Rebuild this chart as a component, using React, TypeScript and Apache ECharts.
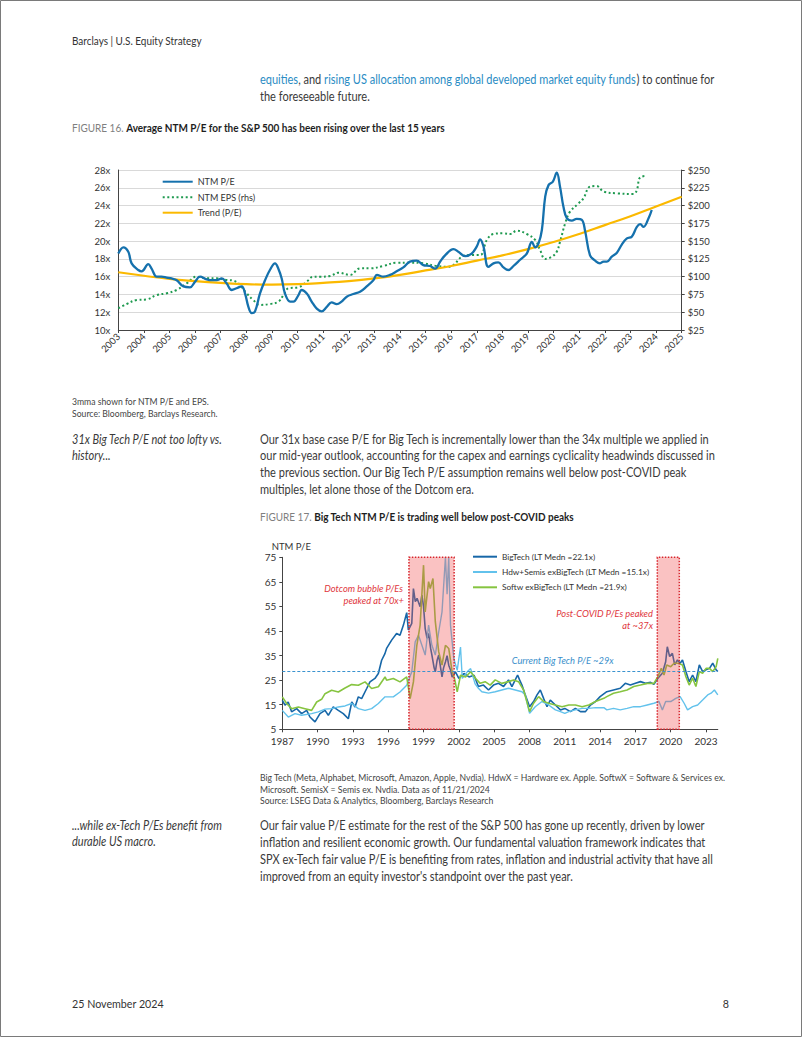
import React, { useEffect, useRef } from "react";
import * as echarts from "echarts";

// ---------------- Figure 16 data ----------------
const fig16YearMin = 2003;
const fig16YearMax = 2025;
const ntmPE: [number, number][] = [
  [2003.0, 18.6], [2003.2, 19.3], [2003.39, 18.8], [2003.52, 17.5], [2003.78, 16.75], [2003.91, 16.6],
  [2004.17, 17.4], [2004.3, 16.9], [2004.5, 16.0], [2004.69, 16.0], [2004.89, 15.9], [2005.08, 15.8],
  [2005.28, 15.6], [2005.54, 14.9], [2005.8, 14.8], [2005.99, 15.4], [2006.19, 16.0], [2006.45, 15.7],
  [2006.65, 15.6], [2006.84, 15.6], [2007.04, 15.8], [2007.23, 15.25], [2007.43, 14.5], [2007.62, 14.7],
  [2007.82, 14.9], [2007.95, 14.1], [2008.08, 12.6], [2008.21, 11.9], [2008.34, 12.1], [2008.53, 14.1],
  [2008.73, 15.6], [2008.92, 16.75], [2009.12, 17.5], [2009.25, 16.9], [2009.38, 15.8], [2009.51, 14.1],
  [2009.71, 13.2], [2009.84, 13.2], [2010.03, 13.9], [2010.16, 14.5], [2010.36, 14.1], [2010.55, 13.2],
  [2010.75, 12.4], [2010.94, 12.1], [2011.14, 12.6], [2011.33, 13.1], [2011.53, 12.9], [2011.72, 13.2],
  [2011.92, 13.75], [2012.18, 14.05], [2012.44, 14.3], [2012.7, 14.9], [2012.96, 15.6], [2013.1, 16.2],
  [2013.35, 16.0], [2013.61, 16.2], [2013.87, 16.6], [2014.13, 17.05], [2014.39, 17.7], [2014.65, 17.8],
  [2014.91, 17.3], [2015.17, 17.2], [2015.37, 16.9], [2015.57, 17.7], [2015.76, 18.4], [2016.09, 19.1],
  [2016.28, 18.8], [2016.54, 18.3], [2016.8, 18.6], [2017.0, 19.4], [2017.13, 20.2], [2017.26, 19.4],
  [2017.45, 17.1], [2017.65, 17.5], [2017.84, 17.6], [2018.04, 17.05], [2018.23, 16.75], [2018.43, 17.2],
  [2018.69, 17.9], [2018.95, 18.6], [2019.15, 19.9], [2019.28, 19.3], [2019.41, 19.75], [2019.54, 21.25],
  [2019.67, 25.0], [2019.8, 26.3], [2019.97, 26.7], [2020.12, 27.7], [2020.25, 26.1], [2020.38, 23.9],
  [2020.51, 22.6], [2020.71, 22.3], [2020.9, 22.5], [2021.1, 22.4], [2021.23, 21.1], [2021.42, 18.4],
  [2021.62, 17.8], [2021.81, 17.5], [2021.95, 17.7], [2022.08, 17.7], [2022.27, 18.25], [2022.47, 18.7],
  [2022.66, 19.6], [2022.86, 20.3], [2023.05, 20.5], [2023.25, 21.6], [2023.38, 21.9], [2023.51, 21.6],
  [2023.71, 22.6], [2023.83, 23.5],
];
const ntmEPS: [number, number][] = [
  [2003.0, 55.5], [2003.33, 61.6], [2003.72, 67.2], [2004.11, 68.1], [2004.5, 74.2], [2004.89, 76.6],
  [2005.28, 81.3], [2005.67, 90.6], [2006.06, 100], [2006.45, 97.7], [2006.84, 97.7], [2007.23, 95.3],
  [2007.49, 94.4], [2007.75, 88.3], [2008.01, 76.6], [2008.27, 67.2], [2008.53, 60.2], [2008.92, 61.6],
  [2009.25, 64.8], [2009.45, 74.2], [2009.64, 83.6], [2010.03, 85], [2010.36, 93], [2010.62, 100],
  [2010.88, 100], [2011.27, 100.9], [2011.59, 105.6], [2012.05, 102.4], [2012.44, 111.7], [2012.83, 111.7],
  [2013.35, 115], [2013.87, 119.7], [2014.39, 119.7], [2014.91, 118.8], [2015.43, 115], [2015.83, 114],
  [2016.09, 116.4], [2016.41, 128], [2016.74, 130.5], [2017.13, 130.5], [2017.39, 151.6], [2017.65, 160],
  [2018.04, 161], [2018.3, 160], [2018.56, 164.7], [2018.95, 160], [2019.28, 151.6], [2019.47, 137.5],
  [2019.67, 124.9], [2019.93, 128], [2020.12, 135], [2020.25, 149.2], [2020.45, 175], [2020.64, 191.4],
  [2020.97, 203], [2021.16, 210], [2021.42, 226.6], [2021.68, 227.5], [2021.95, 219.6], [2022.47, 217.2],
  [2023.12, 216.3], [2023.25, 221.9], [2023.38, 239.7], [2023.64, 241.6],
];
const trendPE: [number, number][] = [
  [2003, 16.5], [2004, 16.1], [2005, 15.75], [2006, 15.5], [2007, 15.3], [2008, 15.15], [2009, 15.1],
  [2010, 15.15], [2011, 15.3], [2012, 15.5], [2013, 15.8], [2014, 16.2], [2015, 16.7], [2016, 17.2],
  [2017, 17.8], [2018, 18.4], [2019, 19.1], [2020, 19.9], [2021, 20.8], [2022, 21.8], [2023, 22.8],
  [2024, 23.9], [2025, 25.0],
];
const fig16Names = ["NTM P/E", "NTM EPS (rhs)", "Trend (P/E)"];

// ---------------- Figure 17 data ----------------
const fig17XTicks = [1987, 1990, 1993, 1996, 1999, 2002, 2005, 2008, 2011, 2014, 2017, 2020, 2023];
const fig17YTicks = [5, 15, 25, 35, 45, 55, 65, 75];
const fig17Names = [
  "BigTech (LT Medn =22.1x)",
  "Hdw+Semis exBigTech (LT Medn =15.1x)",
  "Softw exBigTech (LT Medn =21.9x)",
];
const bigTech: [number, number][] = [
  [1987.0, 16.8], [1987.23, 14.8], [1987.5, 16.1], [1987.79, 12.1], [1988.22, 13.4], [1988.64, 11.4],
  [1989.07, 12.7], [1989.35, 10.0], [1989.78, 8.0], [1990.2, 11.4], [1990.63, 12.7], [1990.91, 10.7],
  [1991.33, 14.1], [1991.76, 12.7], [1992.18, 11.4], [1992.61, 9.3], [1992.9, 16.1], [1993.18, 14.1],
  [1993.46, 18.2], [1993.74, 17.5], [1994.17, 21.6], [1994.45, 24.3], [1994.87, 25.7], [1995.16, 27.7],
  [1995.44, 33.1], [1995.72, 35.8], [1995.86, 37.9], [1996.29, 41.3], [1996.71, 44], [1997.0, 43.3],
  [1997.29, 47.4], [1997.57, 52.5], [1997.71, 45.4], [1998.0, 48.1], [1998.14, 62.3], [1998.3, 57],
  [1998.45, 58.3], [1998.71, 54.9], [1998.86, 59.6], [1999.0, 55], [1999.14, 46], [1999.3, 42],
  [1999.43, 44], [1999.6, 38], [1999.71, 35.2], [1999.9, 30], [2000.0, 28.4], [2000.15, 33],
  [2000.29, 35.2], [2000.45, 30], [2000.57, 26.3], [2000.7, 30], [2000.86, 32.4], [2001.0, 35],
  [2001.14, 31.1], [2001.3, 29], [2001.43, 26.3], [2001.71, 28.4], [2002.0, 25.7], [2002.43, 27.7],
  [2002.86, 26.3], [2003.29, 27.0], [2003.66, 22.4], [2004.09, 23.0], [2004.52, 21.0], [2004.94, 23.0],
  [2005.37, 23.7], [2005.8, 22.4], [2006.22, 25.1], [2006.51, 22.4], [2006.79, 25.1], [2006.99, 27.1],
  [2007.16, 25.1], [2007.36, 23.0], [2007.64, 19.0], [2008.01, 14.2], [2008.35, 16.3], [2008.64, 19.0],
  [2008.92, 21.0], [2009.2, 17.6], [2009.49, 14.2], [2009.77, 16.9], [2010.2, 14.9], [2010.63, 12.9],
  [2011.0, 13.5], [2011.48, 12.2], [2011.9, 13.5], [2012.33, 12.2], [2012.76, 12.2], [2013.18, 14.9],
  [2013.61, 16.3], [2014.0, 18.3], [2014.57, 20.3], [2015.14, 21.0], [2015.71, 21.7], [2016.14, 23.7],
  [2016.57, 23.0], [2017.0, 23.7], [2017.43, 24.4], [2017.86, 23.7], [2018.29, 24.1], [2018.57, 23.3],
  [2018.91, 25.8], [2019.29, 27.8], [2019.57, 32.5], [2019.71, 38.6], [2019.91, 34.6], [2020.14, 35.9],
  [2020.34, 31.2], [2020.57, 33.2], [2020.8, 31.9], [2021.0, 33.2], [2021.29, 28.5], [2021.57, 24.4],
  [2021.86, 27.1], [2022.14, 24.4], [2022.43, 31.2], [2022.71, 28.5], [2023.0, 29.2], [2023.29, 29.8],
  [2023.57, 31.9], [2023.86, 29.2], [2024.0, 28.5],
];
const hdwSemis: [number, number][] = [
  [1987.0, 12.7], [1987.51, 10.0], [1988.08, 11.4], [1988.64, 10.7], [1989.49, 11.4], [1990.06, 12.1],
  [1990.63, 13.2], [1991.19, 13.4], [1991.76, 14.1], [1992.33, 14.5], [1992.89, 15.5], [1993.46, 13.4],
  [1994.03, 12.7], [1994.59, 13.4], [1995.16, 15.5], [1995.73, 18.2], [1996.43, 18.2], [1997.0, 20.2],
  [1997.57, 22.9], [1998.0, 28.4], [1998.29, 40.6], [1998.57, 43.3], [1998.86, 39.2], [1999.14, 35.2],
  [1999.43, 47.4], [1999.71, 39.2], [2000.0, 35.2], [2000.29, 44.7], [2000.57, 52.8], [2000.86, 75],
  [2001.0, 60], [2001.14, 75], [2001.29, 47.4], [2001.57, 33.8], [2001.86, 29.0], [2002.14, 38.5],
  [2002.29, 25.7], [2002.71, 28.4], [2003.0, 29.7], [2003.38, 23.5], [2003.66, 21.7], [2003.95, 20.3],
  [2004.52, 19.7], [2005.09, 20.3], [2005.65, 21.0], [2006.22, 21.7], [2006.79, 21.0], [2007.36, 20.3],
  [2007.64, 19.0], [2008.01, 11.5], [2008.49, 14.2], [2009.06, 16.3], [2009.63, 14.9], [2010.2, 12.9],
  [2010.63, 12.2], [2011.0, 11.5], [2011.34, 12.2], [2011.9, 12.9], [2012.47, 13.5], [2013.04, 13.5],
  [2013.61, 13.8], [2014.32, 13.8], [2014.57, 12.9], [2015.14, 13.5], [2015.71, 12.9], [2016.29, 13.5],
  [2016.86, 14.2], [2017.43, 14.2], [2018.0, 14.9], [2018.57, 15.6], [2019.0, 16.3], [2019.29, 12.9],
  [2019.57, 16.3], [2020.0, 16.3], [2020.43, 17.6], [2020.8, 18.3], [2021.14, 15.6], [2021.43, 12.9],
  [2021.86, 14.2], [2022.29, 14.9], [2022.71, 16.9], [2023.14, 19.0], [2023.43, 19.7], [2023.71, 21.0],
  [2024.0, 19.0],
];
const softw: [number, number][] = [
  [1987.0, 18.2], [1987.37, 15.5], [1987.79, 13.4], [1988.36, 14.1], [1988.93, 13.4], [1989.49, 12.7],
  [1989.92, 16.1], [1990.34, 17.2], [1990.63, 19.5], [1991.19, 20.9], [1991.76, 20.2], [1992.33, 21.8],
  [1992.89, 23.2], [1993.46, 22.9], [1994.03, 24.3], [1994.59, 21.6], [1995.16, 22.3], [1995.73, 26.3],
  [1995.86, 25.0], [1996.43, 25.7], [1997.0, 24.3], [1997.57, 26.3], [1997.86, 17.5], [1998.14, 24.3],
  [1998.43, 39.2], [1998.71, 47.4], [1999.0, 71.8], [1999.14, 52.8], [1999.43, 65.1], [1999.57, 62.3],
  [1999.8, 66.4], [2000.0, 48.8], [2000.29, 36.5], [2000.57, 31.1], [2000.86, 39.2], [2001.14, 37.9],
  [2001.43, 28.4], [2001.63, 25.7], [2001.86, 20.2], [2002.14, 27.0], [2002.57, 26.3], [2003.0, 28.4],
  [2003.43, 25.7], [2003.81, 23.7], [2004.23, 24.4], [2004.66, 23.0], [2005.09, 25.1], [2005.65, 23.7],
  [2006.22, 24.4], [2006.65, 25.1], [2007.07, 24.4], [2007.5, 21.0], [2008.01, 12.2], [2008.35, 15.6],
  [2008.78, 18.3], [2009.2, 16.3], [2009.63, 15.6], [2010.2, 14.9], [2010.77, 14.2], [2011.34, 14.9],
  [2011.9, 14.9], [2012.47, 14.2], [2013.04, 14.9], [2013.61, 16.3], [2014.32, 17.6], [2014.57, 18.3],
  [2015.14, 19.7], [2015.71, 20.3], [2016.29, 21.0], [2016.86, 22.4], [2017.43, 23.0], [2018.0, 23.7],
  [2018.57, 23.7], [2018.91, 26.4], [2019.2, 29.8], [2019.43, 27.1], [2019.66, 31.2], [2020.0, 30.5],
  [2020.29, 31.9], [2020.63, 31.9], [2021.0, 31.2], [2021.29, 26.4], [2021.57, 23.0], [2021.86, 25.8],
  [2022.14, 22.4], [2022.43, 28.5], [2022.71, 27.8], [2023.0, 29.8], [2023.29, 29.8], [2023.57, 28.5],
  [2023.86, 30.5], [2024.0, 33.9],
];
const dotcomPeriod = [1997.76, 2001.6];
const covidPeriod = [2018.86, 2020.73];
const currentBigTechPE = 28.7;

// ---------------- page text ----------------
const headerText = "Barclays | U.S. Equity Strategy";
const para1 = [
  "{l|equities}, and {l|rising US allocation among global developed market equity funds}) to continue for",
  "the foreseeable future.",
];
const fig16Label = "FIGURE 16.";
const fig16Title = "Average NTM P/E for the S&P 500 has been rising over the last 15 years";
const fig16Notes = ["3mma shown for NTM P/E and EPS.", "Source: Bloomberg, Barclays Research."];
const side1 = ["31x Big Tech P/E not too lofty vs.", "history..."];
const para2 = [
  "Our 31x base case P/E for Big Tech is incrementally lower than the 34x multiple we applied in",
  "our mid-year outlook, accounting for the capex and earnings cyclicality headwinds discussed in",
  "the previous section. Our Big Tech P/E assumption remains well below post-COVID peak",
  "multiples, let alone those of the Dotcom era.",
];
const fig17Label = "FIGURE 17.";
const fig17Title = "Big Tech NTM P/E is trading well below post-COVID peaks";
const fig17Notes = [
  "Big Tech (Meta, Alphabet, Microsoft, Amazon, Apple, Nvdia). HdwX = Hardware ex. Apple. SoftwX = Software & Services ex.",
  "Microsoft. SemisX = Semis ex. Nvdia. Data as of 11/21/2024",
  "Source: LSEG Data & Analytics, Bloomberg, Barclays Research",
];
const side2 = ["...while ex-Tech P/Es benefit from", "durable US macro."];
const para3 = [
  "Our fair value P/E estimate for the rest of the S&P 500 has gone up recently, driven by lower",
  "inflation and resilient economic growth. Our fundamental valuation framework indicates that",
  "SPX ex-Tech fair value P/E is benefiting from rates, inflation and industrial activity that have all",
  "improved from an equity investor's standpoint over the past year.",
];
const footerDate = "25 November 2024";
const pageNumber = "8";

const FONT = "Lato";

function measure(text: string, size: number, weight = "normal", style = "normal") {
  const c = document.createElement("canvas").getContext("2d") as CanvasRenderingContext2D;
  c.font = `${style} ${weight} ${size}px ${FONT}`;
  return c.measureText(text).width;
}

function txt(text: string, x: number, y: number, o: any = {}) {
  const size = o.size ?? 12.5;
  return {
    type: "text",
    x,
    y,
    scaleX: o.scale ?? 1,
    silent: true,
    z: 100,
    style: {
      text,
      fontSize: size,
      fontFamily: FONT,
      fontWeight: o.weight ?? "normal",
      fontStyle: o.italic ? "italic" : "normal",
      fill: o.fill ?? "#3a3a3a",
      align: o.align ?? "left",
      verticalAlign: "middle",
      rich: o.rich,
    },
  };
}

function buildGraphics() {
  const BODY = 12.5;
  const sHeader = 130 / measure(headerText, 11);
  const sBody = 451 / measure(para2[0], BODY);
  const sSide = 151 / measure(side1[0], BODY, "normal", "italic");
  const sNote = 233.6 / measure(fig17Notes[2], 9.5);
  const sTitle = 374 / (measure(fig16Label + " ", 10.5) + measure(fig16Title, 10.5, "bold"));
  const sFoot = 92 / measure(footerDate, 11);
  const richTitle = {
    g: { fontSize: 10.5, fontFamily: FONT, fontWeight: "normal", fill: "#7f7f7f" },
    b: { fontSize: 10.5, fontFamily: FONT, fontWeight: "bold", fill: "#1e1e1e" },
  };
  const richLink = { l: { fontSize: BODY, fontFamily: FONT, fontWeight: "normal", fill: "#2a8cc4" } };
  const g: any[] = [];
  g.push({
    type: "rect",
    silent: true,
    shape: { x: 0.5, y: 0.5, width: 801, height: 1036 },
    style: { fill: "none", stroke: "#7a7a7a", lineWidth: 1 },
  });
  g.push(txt(headerText, 72, 41, { size: 11, scale: sHeader, fill: "#333" }));
  para1.forEach((t, i) => g.push(txt(t, 260, 79.3 + i * 16.7, { size: BODY, scale: sBody, rich: richLink })));
  g.push(txt(`{g|${fig16Label}} {b|${fig16Title}}`, 72, 128.3, { size: 10.5, scale: sTitle, rich: richTitle }));
  fig16Notes.forEach((t, i) => g.push(txt(t, 72, 401.7 + i * 11.6, { size: 9.5, scale: sNote, fill: "#444" })));
  side1.forEach((t, i) => g.push(txt(t, 72, 439 + i * 16.7, { size: BODY, scale: sSide, italic: true })));
  para2.forEach((t, i) => g.push(txt(t, 260, 439 + i * 16.7, { size: BODY, scale: sBody })));
  g.push(txt(`{g|${fig17Label}} {b|${fig17Title}}`, 260, 516.7, { size: 10.5, scale: sTitle, rich: richTitle }));
  fig17Notes.forEach((t, i) => g.push(txt(t, 260, 777.3 + i * 11.7, { size: 9.5, scale: sNote, fill: "#444" })));
  side2.forEach((t, i) => g.push(txt(t, 72, 825 + i * 16.7, { size: BODY, scale: sSide, italic: true })));
  para3.forEach((t, i) => g.push(txt(t, 260, 825 + i * 16.95, { size: BODY, scale: sBody })));
  g.push(txt(footerDate, 72, 1003.3, { size: 11, scale: sFoot, fill: "#333" }));
  g.push(txt(pageNumber, 729, 1003.3, { size: 11, scale: sFoot, fill: "#333", align: "right" }));

  // chart 2 annotations
  const red = "#e0353c";
  g.push(txt("NTM P/E", 271.7, 546, { size: 9.5, fill: "#333" }));
  g.push(txt("Dotcom bubble P/Es", 403, 588.3, { size: 9.3, italic: true, fill: red, align: "right" }));
  g.push(txt("peaked at 70x+", 404, 600.7, { size: 9.3, italic: true, fill: red, align: "right" }));
  g.push(txt("Post-COVID P/Es peaked", 653, 613.7, { size: 9.3, italic: true, fill: red, align: "right" }));
  g.push(txt("at ~37x", 653, 625.7, { size: 9.3, italic: true, fill: red, align: "right" }));
  g.push(txt("Current Big Tech P/E ~29x", 511.7, 660, { size: 9.3, italic: true, fill: "#3a8fcb" }));
  return g;
}

function buildOption() {
  const axisColor = "#444";
  const labelStyle = { fontFamily: FONT, color: "#333" };
  return {
    animation: false,
    backgroundColor: "#fff",
    textStyle: { fontFamily: FONT },
    graphic: buildGraphics(),
    grid: [
      { left: 118.3, top: 170, width: 563.4, height: 160 },
      { left: 282.3, top: 557.3, width: 435.5, height: 172 },
    ],
    legend: [
      {
        data: fig16Names,
        orient: "vertical",
        left: 161.7,
        top: 176.7,
        padding: 0,
        itemWidth: 30,
        itemHeight: 10,
        itemGap: 5.5,
        itemStyle: { opacity: 0 },
        textStyle: { fontFamily: FONT, fontSize: 9, color: "#333", lineHeight: 10 },
      },
      {
        data: fig17Names,
        orient: "vertical",
        left: 472,
        top: 551.7,
        padding: 0,
        itemWidth: 24,
        itemHeight: 10,
        itemGap: 5.3,
        itemStyle: { opacity: 0 },
        textStyle: { fontFamily: FONT, fontSize: 8.3, color: "#333", lineHeight: 10 },
      },
    ],
    xAxis: [
      {
        type: "value",
        gridIndex: 0,
        min: fig16YearMin,
        max: fig16YearMax,
        interval: 1,
        axisLine: { show: true, lineStyle: { color: axisColor, width: 1 } },
        axisTick: { show: true, length: 3, lineStyle: { color: axisColor } },
        splitLine: { show: false },
        axisLabel: { ...labelStyle, fontSize: 9.5, rotate: 45, margin: 5, formatter: (v: number) => String(v) },
      },
      {
        type: "value",
        gridIndex: 1,
        min: 1987,
        max: 2024,
        axisLine: { show: true, lineStyle: { color: axisColor, width: 1 } },
        axisTick: { show: true, length: 3, customValues: fig17XTicks, lineStyle: { color: axisColor } },
        splitLine: { show: false },
        axisLabel: { ...labelStyle, fontSize: 10, margin: 7, customValues: fig17XTicks, formatter: (v: number) => String(v) },
      },
    ],
    yAxis: [
      {
        type: "value",
        gridIndex: 0,
        min: 10,
        max: 28,
        interval: 2,
        axisLine: { show: true, lineStyle: { color: axisColor, width: 1 } },
        axisTick: { show: false },
        splitLine: { show: true, lineStyle: { color: "#d9d9d9", width: 1 } },
        axisLabel: { ...labelStyle, fontSize: 9.5, margin: 8, formatter: (v: number) => `${v}x` },
      },
      {
        type: "value",
        gridIndex: 0,
        position: "right",
        min: 25,
        max: 250,
        interval: 25,
        axisLine: { show: true, lineStyle: { color: axisColor, width: 1 } },
        axisTick: { show: true, length: 3, lineStyle: { color: axisColor } },
        splitLine: { show: false },
        axisLabel: { ...labelStyle, fontSize: 9.5, margin: 6, formatter: (v: number) => `$${v}` },
      },
      {
        type: "value",
        gridIndex: 1,
        min: 5,
        max: 75,
        axisLine: { show: true, lineStyle: { color: axisColor, width: 1 } },
        axisTick: { show: true, length: 3, customValues: fig17YTicks, lineStyle: { color: axisColor } },
        splitLine: { show: false },
        axisLabel: { ...labelStyle, fontSize: 10, margin: 6, customValues: fig17YTicks },
      },
    ],
    series: [
      {
        name: fig16Names[0],
        type: "line",
        xAxisIndex: 0,
        yAxisIndex: 0,
        data: ntmPE,
        smooth: 0.4,
        symbol: "none",
        z: 4,
        lineStyle: { color: "#1571ad", width: 2.3 },
        itemStyle: { color: "#1571ad" },
      },
      {
        name: fig16Names[1],
        type: "line",
        xAxisIndex: 0,
        yAxisIndex: 1,
        data: ntmEPS,
        smooth: 0.4,
        symbol: "none",
        z: 3,
        lineStyle: { color: "#1f9a50", width: 2, type: [2, 2.6] },
        itemStyle: { color: "#1f9a50" },
      },
      {
        name: fig16Names[2],
        type: "line",
        xAxisIndex: 0,
        yAxisIndex: 0,
        data: trendPE,
        smooth: true,
        symbol: "none",
        z: 3,
        lineStyle: { color: "#fbb900", width: 2.2 },
        itemStyle: { color: "#fbb900" },
      },
      {
        name: fig17Names[0],
        type: "line",
        xAxisIndex: 1,
        yAxisIndex: 2,
        data: bigTech,
        symbol: "none",
        lineStyle: { color: "#1767a8", width: 1.6 },
        itemStyle: { color: "#1767a8" },
      },
      {
        name: fig17Names[1],
        type: "line",
        xAxisIndex: 1,
        yAxisIndex: 2,
        data: hdwSemis,
        symbol: "none",
        lineStyle: { color: "#62c2ec", width: 1.4 },
        itemStyle: { color: "#62c2ec" },
      },
      {
        name: fig17Names[2],
        type: "line",
        xAxisIndex: 1,
        yAxisIndex: 2,
        data: softw,
        symbol: "none",
        lineStyle: { color: "#86c440", width: 1.6 },
        itemStyle: { color: "#86c440" },
        markArea: {
          silent: true,
          z: 5,
          itemStyle: {
            color: "rgba(240, 80, 80, 0.35)",
            borderColor: "#d7262d",
            borderWidth: 1.5,
            borderType: [1.5, 1.5],
          },
          data: [
            [{ xAxis: dotcomPeriod[0], yAxis: 5 }, { xAxis: dotcomPeriod[1], yAxis: 75 }],
            [{ xAxis: covidPeriod[0], yAxis: 5 }, { xAxis: covidPeriod[1], yAxis: 75 }],
          ],
        },
        markLine: {
          silent: true,
          symbol: "none",
          label: { show: false },
          lineStyle: { color: "#3b93cf", width: 1, type: [3, 2] },
          data: [{ yAxis: currentBigTechPE }],
        },
      },
    ],
  };
}

export default function App() {
  const ref = useRef<HTMLDivElement>(null);
  useEffect(() => {
    const chart = echarts.init(ref.current as HTMLDivElement, null, { renderer: "svg" });
    chart.setOption(buildOption() as any);
    return () => chart.dispose();
  }, []);
  return (
    <div
      ref={ref}
      style={{ position: "absolute", left: 0, top: 0, width: 802, height: 1037, background: "#fff" }}
    />
  );
}
